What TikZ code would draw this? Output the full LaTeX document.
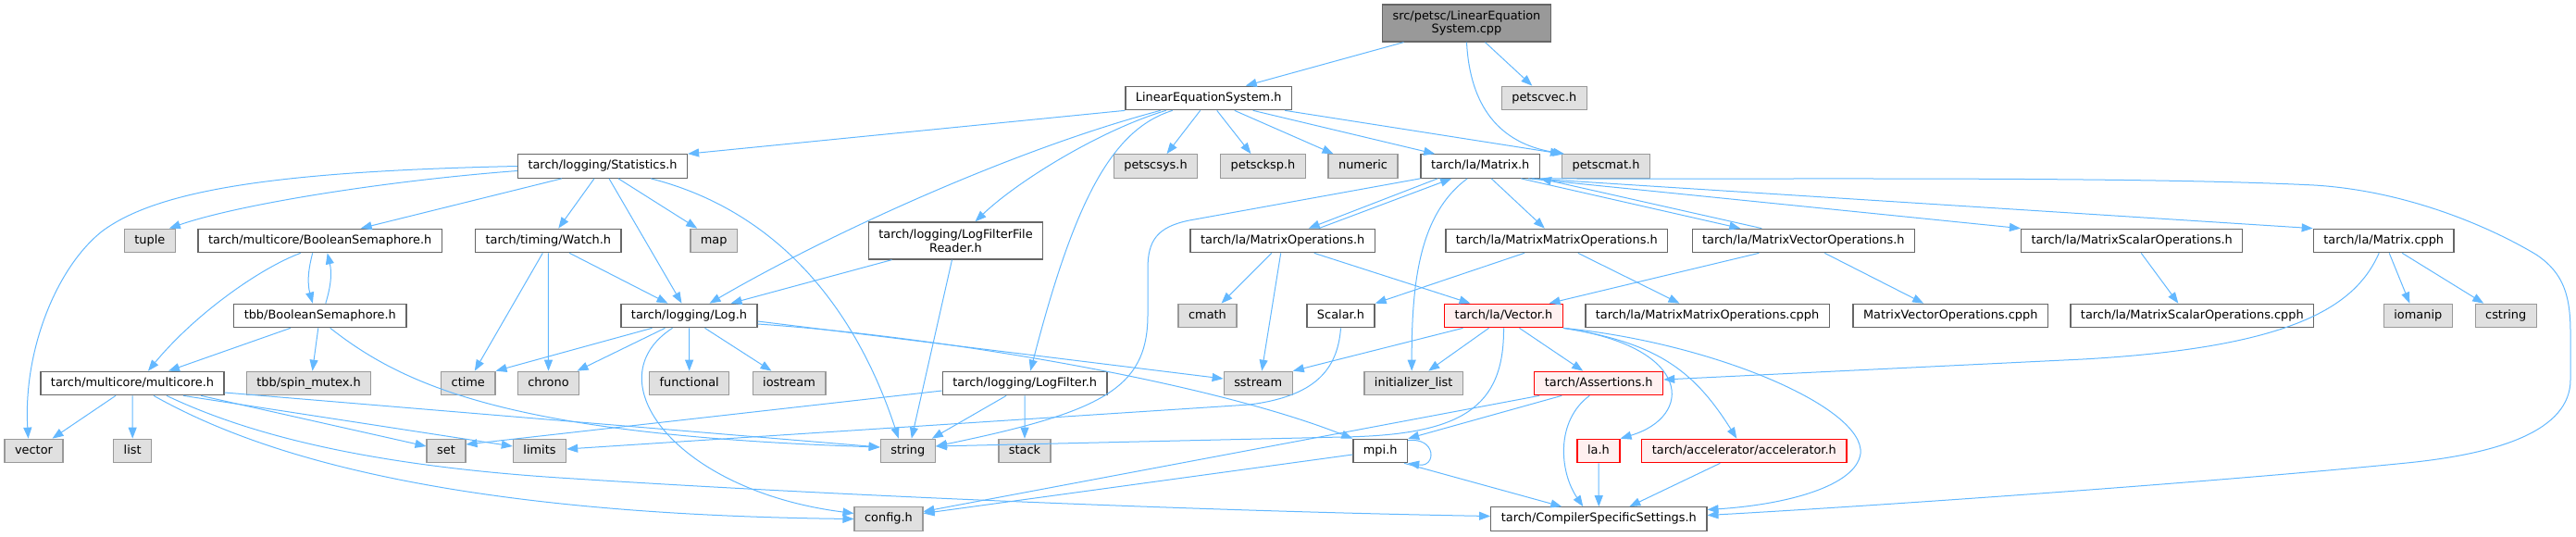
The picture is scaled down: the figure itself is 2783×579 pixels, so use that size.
\documentclass[tikz,border=0pt]{standalone}
\usepackage{fontspec}
\usetikzlibrary{arrows.meta}
\newfontfamily\dxfont{DejaVu Sans}
\definecolor{linkblue}{HTML}{63B8FF}
\definecolor{boxgrey}{HTML}{666666}
\definecolor{extgrey}{HTML}{999999}
\definecolor{extfill}{HTML}{E0E0E0}
\definecolor{truncfill}{HTML}{FFF0F0}
\tikzset{
  base/.style={line width=1.3pt, inner xsep=11pt, inner ysep=0pt, minimum height=25.4pt,
    font=\dxfont\fontsize{12.9}{14.8}\selectfont},
  hdr/.style={base, text height=9.6pt, text depth=2.8pt, draw=boxgrey, fill=white},
  ext/.style={hdr, draw=extgrey, fill=extfill},
  trunc/.style={hdr, draw=red, fill=truncfill},
  twoline/.style={base, align=center, minimum height=40pt, draw=boxgrey, fill=white},
  root/.style={twoline, fill=extgrey},
  inc/.style={draw=linkblue, line width=1pt, -{Triangle[length=12pt,width=9pt]}}
}
\begin{document}
\begin{tikzpicture}[x=1pt, y=-1pt]
    \useasboundingbox (0,0) rectangle (2783,579);

    % row 0 and 1
    \node[root] (src) at (1584.5,25) {src/petsc/LinearEquation\\System.cpp};
    \node[hdr] (les) at (1305.7,106) {LinearEquationSystem.h};
    \node[ext] (petscvec) at (1668.3,106) {petscvec.h};

    % row 2
    \node[hdr] (stats) at (651,179.5) {tarch/logging/Statistics.h};
    \node[ext] (petscsys) at (1248.5,179.5) {petscsys.h};
    \node[ext] (petscksp) at (1364.5,179.5) {petscksp.h};
    \node[ext] (numeric) at (1472.5,179.5) {numeric};
    \node[hdr] (matrix) at (1599.2,179.5) {tarch/la/Matrix.h};
    \node[ext] (petscmat) at (1735,179.5) {petscmat.h};

    % row 3
    \node[ext] (tuple) at (161.8,260) {tuple};
    \node[hdr] (tarchsem) at (345.7,260) {tarch/multicore/BooleanSemaphore.h};
    \node[hdr] (watch) at (592.3,260) {tarch/timing/Watch.h};
    \node[ext] (map) at (771.2,260) {map};
    \node[twoline] (lffr) at (1032.5,260) {tarch/logging/LogFilterFile\\Reader.h};
    \node[hdr] (matops) at (1385.7,260) {tarch/la/MatrixOperations.h};
    \node[hdr] (mmops) at (1681.8,260) {tarch/la/MatrixMatrixOperations.h};
    \node[hdr] (mvops) at (1948.3,260) {tarch/la/MatrixVectorOperations.h};
    \node[hdr] (msops) at (2303.2,260) {tarch/la/MatrixScalarOperations.h};
    \node[hdr] (matcpph) at (2575.2,260) {tarch/la/Matrix.cpph};

    % row 4
    \node[hdr] (tbbsem) at (345.8,341) {tbb/BooleanSemaphore.h};
    \node[hdr] (log) at (744.5,341) {tarch/logging/Log.h};
    \node[ext] (cmath) at (1304.5,341) {cmath};
    \node[hdr] (scalar) at (1448.5,341) {Scalar.h};
    \node[trunc] (vec) at (1624.5,341) {tarch/la/Vector.h};
    \node[hdr] (mmcpph) at (1844.5,341) {tarch/la/MatrixMatrixOperations.cpph};
    \node[hdr] (mvcpph) at (2107.2,341) {MatrixVectorOperations.cpph};
    \node[hdr] (mscpph) at (2368.3,341) {tarch/la/MatrixScalarOperations.cpph};
    \node[ext] (iomanip) at (2612.3,341) {iomanip};
    \node[ext] (cstring) at (2707.2,341) {cstring};

    % row 5
    \node[hdr] (multicore) at (143,414) {tarch/multicore/multicore.h};
    \node[ext] (spinmutex) at (333.5,414) {tbb/spin\_mutex.h};
    \node[ext] (ctime) at (505.8,414) {ctime};
    \node[ext] (chrono) at (592.5,414) {chrono};
    \node[ext] (functional) at (744.7,414) {functional};
    \node[ext] (iostream) at (852.5,414) {iostream};
    \node[hdr] (logfilter) at (1107.2,414) {tarch/logging/LogFilter.h};
    \node[ext] (sstream) at (1359.2,414) {sstream};
    \node[ext] (initlist) at (1527.2,414) {initializer\_list};
    \node[trunc] (assertions) at (1727.2,414) {tarch/Assertions.h};

    % row 6 and 7
    \node[ext] (vector) at (36.5,487) {vector};
    \node[ext] (list) at (143.2,487) {list};
    \node[ext] (set) at (482,487) {set};
    \node[ext] (limits) at (583,487) {limits};
    \node[ext] (string) at (980.8,487) {string};
    \node[ext] (stack) at (1107,487) {stack};
    \node[hdr] (mpi) at (1491.2,487) {mpi.h};
    \node[trunc] (lah) at (1727,487) {la.h};
    \node[trunc] (accel) at (1884.3,487) {tarch/accelerator/accelerator.h};
    \node[ext] (config) at (960,560.5) {config.h};
    \node[hdr] (css) at (1727.3,560.5) {tarch/CompilerSpecificSettings.h};

    % source file
    \draw[inc] ([xshift=-68pt]src.south) -- ([xshift=40pt]les.north);
    \draw[inc] ([xshift=20pt]src.south) -- ([xshift=-13pt]petscvec.north);
    \draw[inc] (src.south) .. controls (1588,115) and (1620,155) .. ([xshift=3pt]petscmat.north west);

    % LinearEquationSystem.h
    \draw[inc] (les.south west) -- (stats.north east);
    \draw[inc] ([xshift=-52pt]les.south) .. controls (1100,160) and (900,250) .. ([xshift=22pt]log.north);
    \draw[inc] ([xshift=-46pt]les.south) .. controls (1190,140) and (1100,195) .. ([xshift=21pt]lffr.north);
    \draw[inc] ([xshift=-39pt]les.south) .. controls (1200,140) and (1160,220) .. ([xshift=6pt]logfilter.north);
    \draw[inc] ([xshift=-9pt]les.south) -- ([xshift=12pt]petscsys.north);
    \draw[inc] ([xshift=9pt]les.south) -- ([xshift=-13pt]petscksp.north);
    \draw[inc] ([xshift=28pt]les.south) -- ([xshift=-32pt]numeric.north);
    \draw[inc] ([xshift=48pt]les.south) -- ([xshift=-49pt]matrix.north);
    \draw[inc] ([xshift=-8pt]les.south east) -- (petscmat.north west);

    % Statistics.h
    \draw[inc] (stats.west) .. controls (300,185) and (170,205) .. (110,250)
        .. controls (60,290) and (25,380) .. ([xshift=-6pt]vector.north);
    \draw[inc] ([yshift=-5pt]stats.west) .. controls (420,195) and (260,220) .. ([xshift=21pt]tuple.north);
    \draw[inc] ([xshift=-44pt]stats.south) -- ([xshift=44pt]tarchsem.north);
    \draw[inc] ([xshift=-9pt]stats.south) -- ([xshift=11pt]watch.north);
    \draw[inc] ([xshift=7pt]stats.south) -- ([xshift=-8pt]log.north);
    \draw[inc] ([xshift=17pt]stats.south) -- ([xshift=-18pt]map.north);
    \draw[inc] ([xshift=52pt]stats.south) .. controls (830,225) and (920,320) .. ([xshift=-10pt]string.north);

    % semaphores
    \draw[inc] ([xshift=-21pt]tarchsem.south) .. controls (280,290) and (210,340) .. ([xshift=17pt]multicore.north);
    \draw[inc] ([xshift=-8pt]tarchsem.south) to[bend right=15] ([xshift=-8pt]tbbsem.north);
    \draw[inc] ([xshift=6pt]tbbsem.north) to[bend right=15] ([xshift=8pt]tarchsem.south);
    \draw[inc] ([xshift=-32pt]tbbsem.south) -- ([xshift=39pt]multicore.north);
    \draw[inc] ([xshift=-2pt]tbbsem.south) -- ([xshift=4pt]spinmutex.north);
    \draw[inc] ([xshift=11pt]tbbsem.south) .. controls (440,420) and (560,470) .. ([yshift=4pt]string.west);

    % multicore.h
    \draw[inc] ([xshift=-18pt]multicore.south) -- ([xshift=20pt]vector.north);
    \draw[inc] (multicore.south) -- (list.north);
    \draw[inc] ([xshift=74pt]multicore.south) -- ([yshift=5pt]set.west);
    \draw[inc] ([xshift=55pt]multicore.south) -- ([yshift=5pt]limits.west);
    \draw[inc] ([yshift=-10pt]multicore.east) -- ([yshift=4pt]string.west);
    \draw[inc] ([xshift=23pt]multicore.south) .. controls (260,480) and (450,555) .. (config.west);
    \draw[inc] ([xshift=37pt]multicore.south) .. controls (280,475) and (420,505) .. (620,517)
        .. controls (900,535) and (1300,552) .. ([yshift=3pt]css.west);

    % Watch.h and Log.h
    \draw[inc] ([xshift=-6pt]watch.south) -- ([xshift=7pt]ctime.north);
    \draw[inc] (watch.south) -- (chrono.north);
    \draw[inc] ([xshift=23pt]watch.south) -- ([xshift=-23pt]log.north);
    \draw[inc] ([xshift=-40pt]log.south) -- (ctime.north east);
    \draw[inc] ([xshift=-26pt]log.south) -- ([xshift=31pt]chrono.north);
    \draw[inc] (log.south) -- (functional.north);
    \draw[inc] ([xshift=17pt]log.south) -- ([xshift=-19pt]iostream.north);
    \draw[inc] ([xshift=-18pt]log.south) .. controls (640,410) and (730,530) .. ([yshift=6pt]config.west);
    \draw[inc] ([yshift=-6pt]log.east) -- ([yshift=5pt]sstream.west);
    \draw[inc] ([yshift=-9pt]log.east) .. controls (1000,362) and (1300,410) .. (mpi.north west);

    % log filters
    \draw[inc] ([xshift=-69pt]lffr.south) -- ([xshift=45pt]log.north);
    \draw[inc] ([xshift=-4pt]lffr.south) -- ([xshift=4pt]string.north);
    \draw[inc] ([yshift=-8pt]logfilter.west) -- ([yshift=7pt]set.east);
    \draw[inc] ([xshift=-20pt]logfilter.south) -- ([xshift=26pt]string.north);
    \draw[inc] (logfilter.south) -- (stack.north);

    % Matrix.h
    \draw[inc] (matrix.south west) -- (1285,238) .. controls (1250,245) and (1240,260) .. (1240,290)
        -- (1240,340) .. controls (1240,420) and (1190,445) .. ([yshift=5pt]string.east);
    \draw[inc] ([xshift=-46pt]matrix.south) -- ([xshift=28pt]matops.north);
    \draw[inc] ([xshift=-14pt]matrix.south) .. controls (1535,230) and (1525,300) .. ([xshift=-2pt]initlist.north);
    \draw[inc] ([xshift=12pt]matrix.south) -- ([xshift=-13pt]mmops.north);
    \draw[inc] ([xshift=44pt]matrix.south) -- ([xshift=-68pt]mvops.north);
    \draw[inc] ([xshift=52pt]matrix.south) -- (msops.north west);
    \draw[inc] ([xshift=56pt]matrix.south) -- (matcpph.north west);
    \draw[inc] (matrix.south east) .. controls (1900,194) and (2300,190) .. (2500,200)
        .. controls (2600,206) and (2690,245) .. (2740,275)
        .. controls (2770,295) and (2777,320) .. (2777,360) -- (2777,410)
        .. controls (2777,465) and (2700,490) .. (2600,500)
        .. controls (2400,520) and (2050,545) .. ([yshift=4pt]css.east);

    % operations
    \draw[inc] ([xshift=39pt]matops.north) -- ([xshift=-31pt]matrix.south);
    \draw[inc] ([xshift=-12pt]matops.south) -- ([xshift=15pt]cmath.north);
    \draw[inc] ([xshift=-2pt]matops.south) -- ([xshift=4pt]sstream.north);
    \draw[inc] ([xshift=34pt]matops.south) -- ([xshift=-36pt]vec.north);
    \draw[inc] ([xshift=-35pt]mmops.south) -- (scalar.north east);
    \draw[inc] ([xshift=23pt]mmops.south) -- ([xshift=-30pt]mmcpph.north);
    \draw[inc] ([xshift=-45pt]mvops.north) -- (matrix.south east);
    \draw[inc] ([xshift=-48pt]mvops.south) -- ([xshift=49pt]vec.north);
    \draw[inc] ([xshift=23pt]mvops.south) -- ([xshift=-29pt]mvcpph.north);
    \draw[inc] ([xshift=10pt]msops.south) -- ([xshift=-15pt]mscpph.north);
    \draw[inc] ([xshift=-5pt]matcpph.south) .. controls (2545,330) and (2480,375) .. (2250,388)
        -- ([yshift=4pt]assertions.east);
    \draw[inc] ([xshift=6pt]matcpph.south) -- ([xshift=-9pt]iomanip.north);
    \draw[inc] ([xshift=20pt]matcpph.south) -- ([xshift=-24pt]cstring.north);
    \draw[inc] (scalar.south) .. controls (1445,400) and (1420,428) .. (1350,437) -- ([yshift=2pt]limits.east);

    % Vector.h
    \draw[inc] ([xshift=-44pt]vec.south) -- (sstream.north east);
    \draw[inc] ([xshift=-16pt]vec.south) -- ([xshift=16pt]initlist.north);
    \draw[inc] ([xshift=17pt]vec.south) -- ([xshift=-17pt]assertions.north);
    \draw[inc] (vec.south east) .. controls (1830,375) and (1830,450) .. (lah.north east);
    \draw[inc] (vec.south east) .. controls (1790,370) and (1830,400) .. ([xshift=-8pt]accel.north);
    \draw[inc] (vec.south east) .. controls (1850,370) and (2015,440) .. (2010,490)
        .. controls (2005,525) and (1930,545) .. ([yshift=10pt]css.east);
    \draw[inc] (vec.south) .. controls (1625,440) and (1580,470) .. (1450,472) -- ([yshift=5pt]string.east);

    % bottom
    \draw[inc] ([xshift=-40pt]assertions.south) -- (mpi.north east);
    \draw[inc] ([xshift=6pt]assertions.south west) -- ([yshift=8pt]config.east);
    \draw[inc] ([xshift=-10pt]assertions.south) .. controls (1680,455) and (1685,510) .. ([xshift=-17pt]css.north);
    \draw[inc] ([yshift=-2pt]mpi.north east) .. controls (1552,472) and (1552,505) .. (mpi.south east);
    \draw[inc] ([yshift=-4pt]mpi.west) -- ([yshift=6pt]config.east);
    \draw[inc] ([xshift=-4pt]mpi.south east) -- ([xshift=-40pt]css.north);
    \draw[inc] (lah.south) -- (css.north);
    \draw[inc] ([xshift=-26pt]accel.south) -- ([xshift=33pt]css.north);
\end{tikzpicture}
\end{document}
